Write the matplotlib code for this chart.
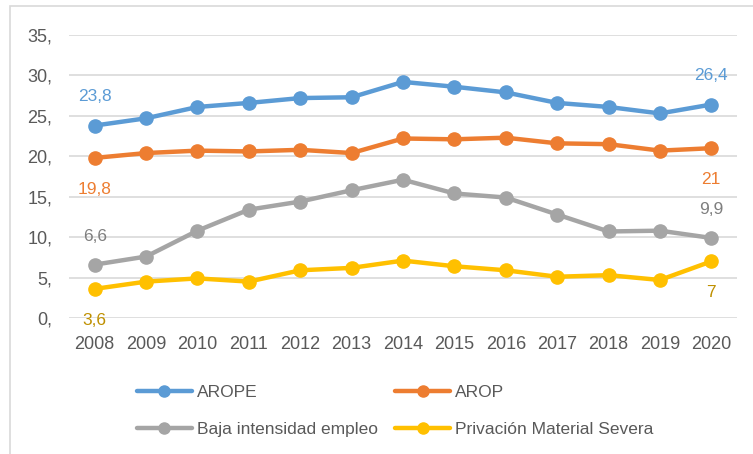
import matplotlib
matplotlib.use("Agg")
import matplotlib.pyplot as plt
from matplotlib.ticker import FuncFormatter, MultipleLocator
from matplotlib.patches import Rectangle
from matplotlib.lines import Line2D

years = ["2008", "2009", "2010", "2011", "2012", "2013", "2014",
         "2015", "2016", "2017", "2018", "2019", "2020"]
arope = [23.8, 24.7, 26.1, 26.6, 27.2, 27.3, 29.2, 28.6, 27.9, 26.6, 26.1, 25.3, 26.4]
arop = [19.8, 20.4, 20.7, 20.6, 20.8, 20.4, 22.2, 22.1, 22.3, 21.6, 21.5, 20.7, 21.0]
baja = [6.6, 7.6, 10.8, 13.4, 14.4, 15.8, 17.1, 15.4, 14.9, 12.8, 10.7, 10.8, 9.9]
pms = [3.6, 4.5, 4.9, 4.5, 5.9, 6.2, 7.1, 6.4, 5.9, 5.1, 5.3, 4.7, 7.0]
series_names = ["AROPE", "AROP", "Baja intensidad empleo", "Privación Material Severa"]
first_labels = ["23,8", "19,8", "6,6", "3,6"]
last_labels = ["26,4", "21", "9,9", "7"]

plt.rcParams['font.family'] = ['Liberation Sans', 'DejaVu Sans']
txt = '#595959'

fig = plt.figure(figsize=(7.53, 4.54), dpi=100)
W, H = 753, 454
ax = fig.add_axes([69 / W, 1 - 318 / H, (737 - 69) / W, (318 - 35) / H])

colors = ['#5B9BD5', '#ED7D31', '#A5A5A5', '#FFC000']
lab_colors = ['#5B9BD5', '#ED7D31', '#7F7F7F', '#BF9000']
offsets = [(0, 21), (0, -22.5), (0, 20.5), (0, -22.5)]
data = [arope, arop, baja, pms]
x = list(range(len(years)))
handles = []
for vals, c, lc, name, fl, ll, off in zip(data, colors, lab_colors, series_names,
                                          first_labels, last_labels, offsets):
    ax.plot(x, vals, color=c, lw=3.2, marker='o', markersize=9.5,
            solid_capstyle='round', zorder=3)
    handles.append(Line2D([], [], color=c, lw=3.2, marker='o', markersize=8,
                          solid_capstyle='round'))
    for xi, lbl in ((0, fl), (len(x) - 1, ll)):
        ax.annotate(lbl, (xi, vals[xi]), xytext=off, textcoords='offset points',
                    ha='center', va='center', color=lc, fontsize=12.5)

ax.set_xlim(-0.5, len(years) - 0.5)
ax.set_ylim(0, 35)
ax.yaxis.set_major_locator(MultipleLocator(5))
ax.yaxis.set_major_formatter(FuncFormatter(lambda v, p: f"{int(round(v))},"))
ax.set_xticks(x)
ax.set_xticklabels(years)
ax.grid(axis='y', color='#D9D9D9', lw=1.2)
ax.set_axisbelow(True)
for s in ax.spines.values():
    s.set_visible(False)
ax.tick_params(axis='both', length=0, colors=txt, labelsize=13)
ax.tick_params(axis='y', pad=12)
ax.tick_params(axis='x', pad=13)

order = [0, 2, 1, 3]
leg = fig.legend(handles=[handles[i] for i in order],
                 labels=[series_names[i] for i in order], ncol=2, loc='upper left',
                 bbox_to_anchor=(137 / W, 1 - 385 / H), frameon=False,
                 borderpad=0, borderaxespad=0,
                 fontsize=12.5, labelcolor=txt, handlelength=3.15,
                 handletextpad=0.3, columnspacing=1.0, labelspacing=1.25)

fig.patches.append(Rectangle((10 / W, -0.1), 1.2, 1 - 6 / H + 0.1,
                             transform=fig.transFigure, fill=False,
                             edgecolor='#D9D9D9', lw=1.2))
fig.savefig("out.png", dpi=100)
